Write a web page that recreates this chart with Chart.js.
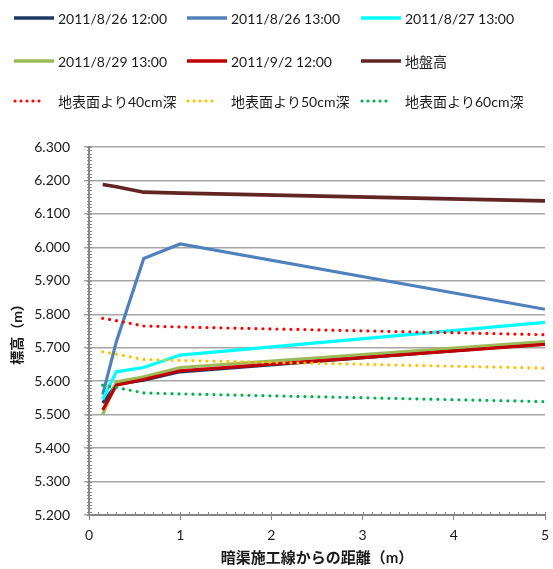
<!DOCTYPE html>
<html lang="ja">
<head>
<meta charset="utf-8">
<title>暗渠施工線からの距離と標高</title>
<script src="https://cdn.jsdelivr.net/npm/chart.js@4/dist/chart.umd.min.js"></script>
<style>
  html, body { margin: 0; padding: 0; background: #fff; }
  #wrap { width: 553px; height: 569px; }
</style>
</head>
<body>
<div id="wrap"><canvas id="chart" width="553" height="569"></canvas></div>
<script>
// Distance from the drain construction line (m)
const distances = [0.15, 0.3, 0.6, 1, 5];

// Measured elevations (m)
const level0826_12 = [5.535, 5.590, 5.603, 5.628, 5.712];
const level0826_13 = [5.560, 5.718, 5.967, 6.010, 5.815];
const level0827_13 = [5.545, 5.628, 5.641, 5.678, 5.776];
const level0829_13 = [5.500, 5.598, 5.613, 5.641, 5.718];
const level0902_12 = [5.514, 5.588, 5.605, 5.631, 5.710];
const groundLevel  = [6.188, 6.181, 6.165, 6.162, 6.139];
const depth40      = [5.788, 5.781, 5.765, 5.762, 5.739];
const depth50      = [5.688, 5.681, 5.665, 5.662, 5.639];
const depth60      = [5.588, 5.581, 5.565, 5.562, 5.539];

const seriesNames = [
  '2011/8/26 12:00', '2011/8/26 13:00', '2011/8/27 13:00',
  '2011/8/29 13:00', '2011/9/2 12:00', '地盤高',
  '地表面より40cm深', '地表面より50cm深', '地表面より60cm深'
];
const seriesValues = [level0826_12, level0826_13, level0827_13, level0829_13,
  level0902_12, groundLevel, depth40, depth50, depth60];
const seriesColors = ['#1F3864', '#4F81BD', '#00FFFF', '#9BBB59', '#C00000',
  '#632523', '#FF0000', '#FFC000', '#00B050'];
const seriesDotted = [false, false, false, false, false, false, true, true, true];

const yTicks = { min: 5.2, max: 6.3, step: 0.1 };
const xTicks = { min: 0, max: 5, step: 1 };

const FONT = 'Lato, "Noto Sans CJK JP", sans-serif';
const TEXT = '#1a1a1a';

const datasets = seriesNames.map((name, i) => ({
  label: name,
  data: distances.map((d, k) => ({ x: d, y: seriesValues[i][k] })),
  borderColor: seriesColors[i],
  backgroundColor: seriesColors[i],
  borderWidth: seriesDotted[i] ? 3.2 : (i === 5 ? 3.6 : 3.2),
  borderDash: seriesDotted[i] ? [0, 7] : [],
  borderCapStyle: seriesDotted[i] ? 'round' : 'butt',
  borderJoinStyle: 'miter',
  pointRadius: 0,
  tension: 0,
  // later series are painted over earlier ones
  order: seriesNames.length - i
}));

// Legend laid out in a 3 x 3 grid above the plot
const gridLegend = {
  id: 'gridLegend',
  afterDraw(chart) {
    const ctx = chart.ctx;
    const colX = [14, 187, 361];
    const rowY = [18, 61, 101];
    ctx.save();
    ctx.font = '14px ' + FONT;
    ctx.textBaseline = 'middle';
    ctx.fillStyle = TEXT;
    chart.data.datasets.forEach((ds, i) => {
      const x = colX[i % 3], y = rowY[Math.floor(i / 3)];
      ctx.beginPath();
      ctx.strokeStyle = ds.borderColor;
      if (seriesDotted[i]) {
        ctx.lineWidth = 3.2;
        ctx.lineCap = 'round';
        ctx.setLineDash([0, 6]);
        ctx.moveTo(x + 1, y);
        ctx.lineTo(x + 31, y);
      } else {
        ctx.lineWidth = 3.4;
        ctx.lineCap = 'butt';
        ctx.setLineDash([]);
        ctx.moveTo(x, y);
        ctx.lineTo(x + 40, y);
      }
      ctx.stroke();
      ctx.setLineDash([]);
      ctx.fillText(ds.label, x + 44, y + 1);
    });
    ctx.restore();
  }
};

// Minor tick marks along both axes
const minorTicks = {
  id: 'minorTicks',
  afterDraw(chart) {
    const ctx = chart.ctx;
    const xs = chart.scales.x, ys = chart.scales.y;
    const area = chart.chartArea;
    ctx.save();
    ctx.strokeStyle = '#868686';
    ctx.lineWidth = 1;
    ctx.beginPath();
    for (let k = 0; k <= 110; k++) {
      const y = Math.round(ys.getPixelForValue(yTicks.min + k * 0.01)) + 0.5;
      ctx.moveTo(area.left - 2, y);
      ctx.lineTo(area.left + 3, y);
    }
    for (let k = 0; k <= 50; k++) {
      const x = Math.round(xs.getPixelForValue(xTicks.min + k * 0.1)) + 0.5;
      ctx.moveTo(x, area.bottom - 3);
      ctx.lineTo(x, area.bottom);
    }
    ctx.stroke();
    ctx.restore();
  }
};

new Chart(document.getElementById('chart'), {
  type: 'line',
  data: { datasets },
  plugins: [gridLegend, minorTicks],
  options: {
    responsive: false,
    animation: false,
    layout: { padding: { top: 147, right: 0, left: 0, bottom: 0 } },
    plugins: { legend: { display: false }, tooltip: { enabled: false } },
    scales: {
      x: {
        type: 'linear',
        min: xTicks.min,
        max: xTicks.max,
        afterFit(scale) {
          scale.height = 54;
          scale.paddingLeft = 0;
          scale.paddingRight = 8;
        },
        ticks: {
          stepSize: xTicks.step,
          color: TEXT,
          font: { family: FONT, size: 14 },
          padding: 7,
          maxRotation: 0
        },
        grid: { drawOnChartArea: false, drawTicks: true, tickLength: 5, color: '#868686', lineWidth: 1 },
        border: { display: true, color: '#868686', width: 2 },
        title: {
          display: true,
          text: '暗渠施工線からの距離（m）',
          color: TEXT,
          font: { family: FONT, size: 15, weight: 'bold' },
          padding: { top: 0, bottom: 2 }
        }
      },
      y: {
        type: 'linear',
        min: yTicks.min,
        max: yTicks.max,
        afterFit(scale) { scale.width = 89; },
        ticks: {
          stepSize: yTicks.step,
          color: TEXT,
          font: { family: FONT, size: 14 },
          padding: 14,
          callback: v => Number(v).toFixed(3)
        },
        grid: { color: '#A6A6A6', lineWidth: 1.5, drawTicks: true, tickLength: 5 },
        border: { display: true, color: '#868686', width: 2 },
        title: {
          display: true,
          text: '標高（m）',
          color: TEXT,
          font: { family: FONT, size: 14, weight: 'bold' },
          padding: { top: 9, bottom: 0 }
        }
      }
    }
  }
});
</script>
</body>
</html>
